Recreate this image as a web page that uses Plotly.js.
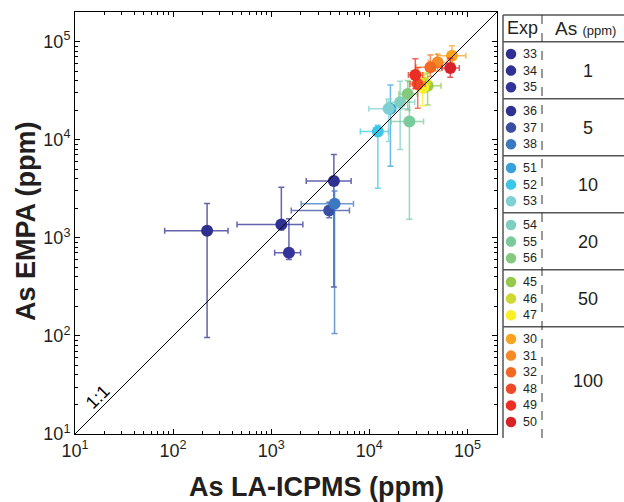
<!DOCTYPE html>
<html>
<head>
<meta charset="utf-8">
<script src="https://cdn.plot.ly/plotly-3.0.1.min.js"></script>
<style>html,body{margin:0;padding:0;background:#fff;}#chart{width:624px;height:502px;}</style>
</head>
<body>
<div id="chart"></div>
<script>
// ---------------- data ----------------
const exps   = ['33','34','35','36','37','38','51','52','53','54','55','56','45','46','47','30','31','32','48','49','50'];
const colors = ['#2e2f8e','#2e3192','#34339a','#2e3192','#3a4fa3','#3b78c2','#39a0dc','#3cc6e8','#7fd0d4','#7ecfc0','#7acb9c','#84c97e','#96c94a','#cdd932','#fbee23','#f8a420','#f68b26','#f26a22','#ef4a28','#ec2d24','#d8222a'];
const groupLabels = ['1','5','10','20','50','100'];
const groupSizes  = [3,3,3,3,3,6];

const icpms   = [222, 1268, 1514, 4350, 3900, 4420, 16400, 12200, 15700, 20600, 25600, 24600, 39300, 36500, 34900, 69500, 49700, 41900, 31100, 29400, 66800];
const icpmsLo = [82,  448,  1084, 2275, 1600, 2020, 14500, 8100,  9870,  15000, 16700, 20000, 32000, 31000, 30000, 48800, 40000, 29800, 26000, 25000, 55000];
const icpmsHi = [363, 2100, 1990, 6520, 6270, 6890, 18500, 15700, 25600, 29000, 35700, 31000, 53700, 42000, 40000, 96300, 62000, 55000, 37000, 35000, 82600];
const empa    = [1180, 1368, 705, 3780, 1900, 2220, 20600, 12080, 20600, 24000, 15300, 29200, 35500, 38000, 34100, 71800, 61300, 54600, 37000, 45600, 53800];
const empaLo  = [96,   1200, 600, 315,  1600, 106,  5350,  3200,  9550,  7950,  1540,  20000, 22600, 30000, 22200, 60000, 50000, 44000, 20900, 33000, 43300];
const empaHi  = [2240, 3280, 1563, 7050, 2300, 3000, 36000, 14000, 26000, 39300, 39000, 40000, 47500, 46000, 48000, 90600, 74000, 73100, 54000, 66800, 67600];

const xTickVals = [1e1, 1e2, 1e3, 1e4, 1e5];
const tickText  = ['10<sup>1</sup>','10<sup>2</sup>','10<sup>3</sup>','10<sup>4</sup>','10<sup>5</sup>'];
const oneToOne  = [10, 2e5];
const xTitle = 'As LA-ICPMS (ppm)';
const yTitle = 'As EMPA (ppm)';

// ---------------- helpers ----------------
function rgba(hex, a){
  const n = parseInt(hex.slice(1),16);
  return 'rgba(' + ((n>>16)&255) + ',' + ((n>>8)&255) + ',' + (n&255) + ',' + a + ')';
}
const minorVals = [];
for (let p = 1; p <= 5; p++) for (let m = 2; m <= 9; m++) { const v = m*Math.pow(10,p); if (v < 2e5) minorVals.push(v); }

const W = 624, H = 502;
const L = 75, R = 0, T = 12, B = 64;
const plotW = W - L - R, plotH = H - T - B;
const mainRight = 497, mainBottom = 434;
const tableLeft = 500;
const FONT = 'Liberation Sans, Arial, sans-serif';
const px2paperX = x => (x - L) / plotW;
const px2paperY = y => (T + plotH - y) / plotH;

// ---------------- main traces ----------------
const traces = [];
for (let i = 0; i < exps.length; i++) {
  traces.push({
    type:'scatter', mode:'markers', x:[icpms[i]], y:[empa[i]],
    xaxis:'x', yaxis:'y', hoverinfo:'skip', showlegend:false,
    marker:{color:colors[i], size:12, line:{width:0}},
    error_x:{type:'data', symmetric:false, array:[icpmsHi[i]-icpms[i]], arrayminus:[icpms[i]-icpmsLo[i]], color:rgba(colors[i],0.75), thickness:1.5, width:3},
    error_y:{type:'data', symmetric:false, array:[empaHi[i]-empa[i]], arrayminus:[empa[i]-empaLo[i]], color:rgba(colors[i],0.75), thickness:1.5, width:3}
  });
}
traces.push({type:'scatter', mode:'lines', x:oneToOne, y:oneToOne, xaxis:'x', yaxis:'y',
  line:{color:'#000', width:1}, hoverinfo:'skip', showlegend:false});

// ---------------- legend table (second subplot, pixel-like units) ----------------
const tblTop = 15, hdrBottom = 41.7, pitch = 16.6, pad = 12.3, grpExtra = 7.2;
const legX = [], legY = [], legC = [];
const annotations = [];
const shapes = [];
const lineCol = '#555';
let idx = 0, gTop = hdrBottom;
for (let g = 0; g < groupSizes.length; g++) {
  const n = groupSizes[g];
  const ys = [];
  for (let k = 0; k < n; k++) {
    const y = gTop + pad + k*pitch;
    ys.push(y);
    legX.push(511); legY.push(y); legC.push(colors[idx]);
    annotations.push({xref:'x2', yref:'y2', x:521, y:y, text:exps[idx], showarrow:false, xanchor:'left', yanchor:'middle',
      font:{family:FONT, size:12.5, color:'#231f20'}});
    idx++;
  }
  annotations.push({xref:'x2', yref:'y2', x:588, y:(ys[0]+ys[n-1])/2, text:groupLabels[g], showarrow:false, xanchor:'center', yanchor:'middle',
    font:{family:FONT, size:18, color:'#231f20'}});
  const gBottom = gTop + n*pitch + grpExtra;
  if (g < groupSizes.length - 1) shapes.push({type:'line', xref:'x2', yref:'y2', x0:503, x1:624, y0:gBottom, y1:gBottom, line:{color:lineCol, width:1.5}});
  gTop = gBottom;
}
traces.push({type:'scatter', mode:'markers', x:legX, y:legY, xaxis:'x2', yaxis:'y2', hoverinfo:'skip', showlegend:false,
  marker:{color:legC, size:10.5, line:{width:0}}});

shapes.push({type:'line', xref:'x2', yref:'y2', x0:503, x1:503, y0:tblTop, y1:438, line:{color:lineCol, width:1.5}});
shapes.push({type:'line', xref:'x2', yref:'y2', x0:503, x1:624, y0:tblTop, y1:tblTop, line:{color:lineCol, width:1.5}});
shapes.push({type:'line', xref:'x2', yref:'y2', x0:503, x1:624, y0:hdrBottom, y1:hdrBottom, line:{color:lineCol, width:1.5}});
shapes.push({type:'line', xref:'x2', yref:'y2', x0:542, x1:542, y0:tblTop, y1:438, line:{color:'#333', width:1, dash:'dash'}});

annotations.push({xref:'x2', yref:'y2', x:522, y:(tblTop+hdrBottom)/2, text:'Exp', showarrow:false, xanchor:'center', yanchor:'middle',
  font:{family:FONT, size:18, color:'#231f20'}});
annotations.push({xref:'x2', yref:'y2', x:585, y:(tblTop+hdrBottom)/2, text:'As <span style="font-size:13px">(ppm)</span>', showarrow:false, xanchor:'center', yanchor:'middle',
  font:{family:FONT, size:19, color:'#231f20'}});

// 1:1 label
annotations.push({xref:'x', yref:'y', x:1.23, y:1.38, text:'1:1', showarrow:false, textangle:-45,
  font:{family:FONT, size:18, color:'#000'}});

// axis titles
const titleFont = {family:FONT, size:27, color:'#231f20'};
annotations.push({xref:'paper', yref:'paper', x:px2paperX(316), y:px2paperY(487), text:'<b>'+xTitle+'</b>', showarrow:false,
  xanchor:'center', yanchor:'middle', font:titleFont});
annotations.push({xref:'paper', yref:'paper', x:px2paperX(26), y:px2paperY(221), text:'<b>'+yTitle+'</b>', showarrow:false, textangle:-90,
  xanchor:'center', yanchor:'middle', font:titleFont});

const axisFont = {family:FONT, size:18, color:'#231f20'};

const layout = {
  width:W, height:H, margin:{l:L, r:R, t:T, b:B, pad:0},
  paper_bgcolor:'#fff', plot_bgcolor:'#fff', showlegend:false,
  xaxis:{type:'log', domain:[0,px2paperX(mainRight)], range:[1, Math.log10(2e5)], anchor:'y',
    tickmode:'array', tickvals:xTickVals, ticktext:tickText, ticks:'inside', ticklen:5, tickwidth:1, tickcolor:'#000',
    minor:{tickmode:'array', tickvals:minorVals, ticks:'inside', ticklen:3, tickwidth:1, tickcolor:'#000', showgrid:false},
    showline:true, linecolor:'#000', linewidth:1, mirror:'ticks', showgrid:false, zeroline:false,
    tickfont:axisFont},
  yaxis:{type:'log', domain:[px2paperY(mainBottom),1], range:[1, Math.log10(2e5)], anchor:'x',
    tickmode:'array', tickvals:xTickVals, ticktext:tickText, ticks:'inside', ticklen:5, tickwidth:1, tickcolor:'#000',
    minor:{tickmode:'array', tickvals:minorVals, ticks:'inside', ticklen:3, tickwidth:1, tickcolor:'#000', showgrid:false},
    showline:true, linecolor:'#000', linewidth:1, mirror:'ticks', showgrid:false, zeroline:false,
    tickfont:axisFont},
  xaxis2:{domain:[px2paperX(tableLeft),1], range:[tableLeft,624], anchor:'y2', visible:false, fixedrange:true},
  yaxis2:{domain:[0,1], range:[438,12], anchor:'x2', visible:false, fixedrange:true},
  shapes:shapes, annotations:annotations
};

Plotly.newPlot('chart', traces, layout, {staticPlot:true, displayModeBar:false});
</script>
</body>
</html>
